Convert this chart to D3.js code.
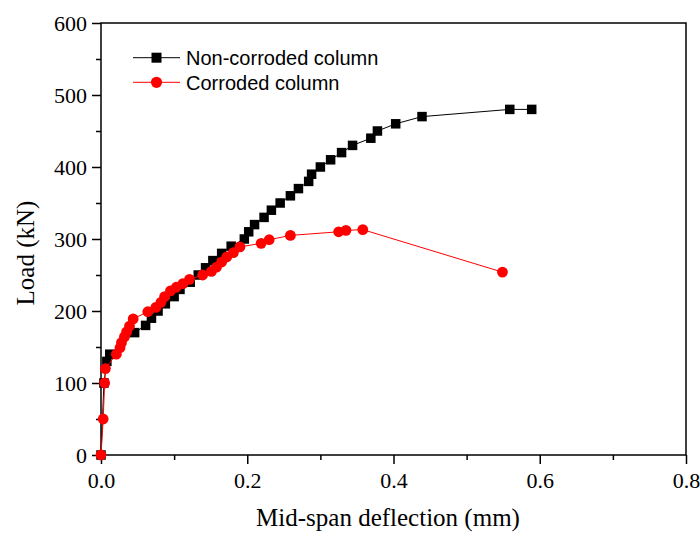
<!DOCTYPE html>
<html>
<head>
<meta charset="utf-8">
<script src="https://cdn.jsdelivr.net/npm/d3@7"></script>
<style>
  body { margin: 0; background: #fff; }
  svg text { fill: #000; }
</style>
</head>
<body>
<div id="canvas"></div>
<script>
// series: [deflection (mm), load (kN)]
var nonCorroded = [[0,0],[0.004,100],[0.008,130],[0.012,140],[0.046,170],[0.061,180],[0.069,190],[0.078,200],[0.088,210],[0.1,220],[0.108,230],[0.122,240],[0.133,250],[0.143,260],[0.153,270],[0.165,280],[0.178,290],[0.196,300],[0.202,310],[0.21,320],[0.223,330],[0.233,340],[0.245,350],[0.259,360],[0.27,370],[0.284,380],[0.288,390],[0.3,400],[0.314,410],[0.329,420],[0.344,430],[0.369,440],[0.378,450],[0.403,460],[0.439,470],[0.559,480],[0.589,480]];
var corroded = [[0,0],[0.003,50],[0.005,100],[0.006,120],[0.021,140],[0.026,149],[0.028,156],[0.032,164],[0.035,171],[0.039,179],[0.044,189],[0.064,199],[0.075,205],[0.082,212],[0.087,220],[0.095,228],[0.103,233],[0.112,238],[0.121,244],[0.139,250],[0.151,255],[0.158,261],[0.165,268],[0.172,275],[0.181,281],[0.19,289],[0.219,294],[0.23,299],[0.259,305],[0.325,310],[0.335,312],[0.358,313],[0.549,254]];
var seriesNames = ['Non-corroded column','Corroded column'];
var xTicks = [0,0.2,0.4,0.6,0.8];
var yTicks = [0,100,200,300,400,500,600];

var m = {t:23,r:14,b:81,l:101},
    w = 700 - m.l - m.r,
    h = 536 - m.t - m.b;

var serif = '"Liberation Serif", "Times New Roman", serif';

var svg = d3.select('#canvas').append('svg')
    .attr('width',700).attr('height',536);
var plot = svg.append('g')
    .attr('transform','translate('+m.l+','+m.t+')');

var x = d3.scaleLinear().domain([0,0.8]).range([0,w]);
var y = d3.scaleLinear().domain([0,600]).range([h,0]);

// frame
plot.append('rect')
    .attr('width',w).attr('height',h)
    .attr('fill','none').attr('stroke','#000').attr('stroke-width',1.5);

// minor ticks
var xMinor = d3.range(0.1,0.8,0.2);
var yMinor = d3.range(50,600,100);
plot.append('g').attr('transform','translate(0,'+h+')')
    .call(d3.axisBottom(x).tickValues(xMinor).tickSize(5).tickFormat(''))
    .call(function(g){ g.select('.domain').remove(); g.selectAll('line').attr('stroke-width',1.5); });
plot.append('g')
    .call(d3.axisLeft(y).tickValues(yMinor).tickSize(5).tickFormat(''))
    .call(function(g){ g.select('.domain').remove(); g.selectAll('line').attr('stroke-width',1.5); });

// major axes
var xAxis = plot.append('g').attr('transform','translate(0,'+h+')')
    .call(d3.axisBottom(x).tickValues(xTicks).tickSize(9).tickPadding(8).tickFormat(d3.format('.1f')));
var yAxis = plot.append('g')
    .call(d3.axisLeft(y).tickValues(yTicks).tickSize(9).tickPadding(5));
[xAxis,yAxis].forEach(function(g){
    g.select('.domain').remove();
    g.selectAll('line').attr('stroke-width',1.5);
    g.selectAll('text').attr('font-family',serif).attr('font-size',22);
});

// axis titles
svg.append('text')
    .attr('x',388).attr('y',526)
    .attr('text-anchor','middle')
    .attr('font-family',serif).attr('font-size',25)
    .text('Mid-span deflection (mm)');
svg.append('text')
    .attr('transform','translate(34,253) rotate(-90)')
    .attr('text-anchor','middle')
    .attr('font-family',serif).attr('font-size',25)
    .text('Load (kN)');

var line = d3.line().x(function(d){return x(d[0]);}).y(function(d){return y(d[1]);});

// non-corroded
plot.append('path').datum(nonCorroded)
    .attr('d',line).attr('fill','none').attr('stroke','#000').attr('stroke-width',1);
plot.selectAll('.sq').data(nonCorroded).enter()
    .append('rect').attr('class','sq')
    .attr('x',function(d){return x(d[0])-4.75;})
    .attr('y',function(d){return y(d[1])-4.75;})
    .attr('width',9.5).attr('height',9.5).attr('fill','#000');

// corroded
plot.append('path').datum(corroded)
    .attr('d',line).attr('fill','none').attr('stroke','#ff0000').attr('stroke-width',1);
plot.selectAll('.ci').data(corroded).enter()
    .append('circle').attr('class','ci')
    .attr('cx',function(d){return x(d[0]);})
    .attr('cy',function(d){return y(d[1]);})
    .attr('r',5.4).attr('fill','#ff0000');

// legend
var legend = svg.append('g').attr('transform','translate(133,57.7)');
seriesNames.forEach(function(name,i){
    var g = legend.append('g').attr('transform','translate(0,'+(i*24.6)+')');
    var c = i === 0 ? '#000' : '#ff0000';
    g.append('line').attr('x1',0).attr('x2',47).attr('stroke',c).attr('stroke-width',1);
    if (i === 0) {
        g.append('rect').attr('x',18.5).attr('y',-5).attr('width',10).attr('height',10).attr('fill',c);
    } else {
        g.append('circle').attr('cx',23.5).attr('r',5.6).attr('fill',c);
    }
    g.append('text').attr('x',53).attr('y',7.3)
        .attr('font-family','"Liberation Sans", Arial, sans-serif').attr('font-size',20)
        .text(name);
});
</script>
</body>
</html>
